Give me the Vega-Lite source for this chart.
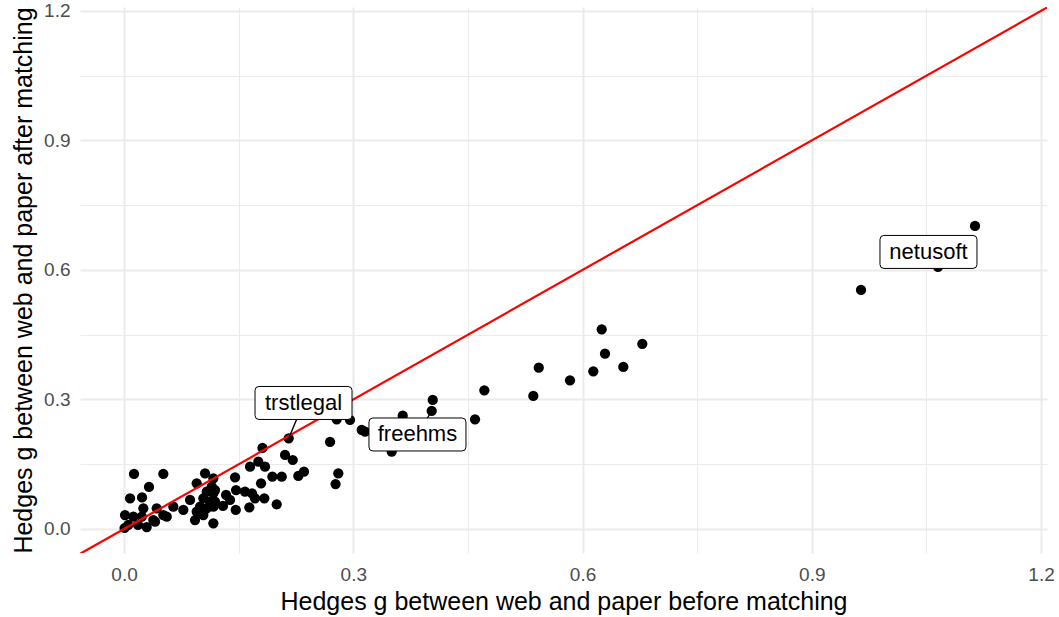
{
  "$schema": "https://vega.github.io/schema/vega-lite/v6.json",
  "width": 967,
  "height": 546,
  "autosize": {"type": "none"},
  "padding": {"left": 80, "top": 7, "right": 12, "bottom": 64},
  "background": "white",
  "config": {
    "view": {"stroke": null},
    "font": "Liberation Sans"
  },
  "datasets": {
    "points": [
      {"x": 1.1136, "y": 0.7019}, {"x": 1.0652, "y": 0.6069}, {"x": 0.9644, "y": 0.5536},
      {"x": 0.6251, "y": 0.4626}, {"x": 0.6782, "y": 0.4285}, {"x": 0.6294, "y": 0.4061},
      {"x": 0.6141, "y": 0.3653}, {"x": 0.6534, "y": 0.3753}, {"x": 0.5836, "y": 0.3445},
      {"x": 0.5427, "y": 0.3736}, {"x": 0.5356, "y": 0.3081}, {"x": 0.4715, "y": 0.3213},
      {"x": 0.4593, "y": 0.2541}, {"x": 0.4040, "y": 0.2988}, {"x": 0.4026, "y": 0.2733},
      {"x": 0.3647, "y": 0.2625}, {"x": 0.3503, "y": 0.1791}, {"x": 0.3110, "y": 0.2293},
      {"x": 0.3154, "y": 0.2254}, {"x": 0.2957, "y": 0.2525}, {"x": 0.2783, "y": 0.2541},
      {"x": 0.2696, "y": 0.2015}, {"x": 0.2155, "y": 0.2101}, {"x": 0.1812, "y": 0.1876},
      {"x": 0.2107, "y": 0.1714}, {"x": 0.2208, "y": 0.1598}, {"x": 0.2281, "y": 0.1228},
      {"x": 0.2355, "y": 0.1327}, {"x": 0.2804, "y": 0.1290}, {"x": 0.2768, "y": 0.1042},
      {"x": 0.1941, "y": 0.1211}, {"x": 0.2064, "y": 0.1211}, {"x": 0.1998, "y": 0.0572},
      {"x": 0.1649, "y": 0.1443}, {"x": 0.1757, "y": 0.1559}, {"x": 0.1845, "y": 0.1443},
      {"x": 0.1793, "y": 0.1059}, {"x": 0.1836, "y": 0.0711}, {"x": 0.1675, "y": 0.0827},
      {"x": 0.1714, "y": 0.0711}, {"x": 0.1640, "y": 0.0503}, {"x": 0.1466, "y": 0.0903},
      {"x": 0.1583, "y": 0.0864}, {"x": 0.1462, "y": 0.0440}, {"x": 0.1453, "y": 0.1198},
      {"x": 0.1335, "y": 0.0788}, {"x": 0.1387, "y": 0.0672}, {"x": 0.1295, "y": 0.0533},
      {"x": 0.1060, "y": 0.1290}, {"x": 0.1169, "y": 0.1174}, {"x": 0.0951, "y": 0.1059},
      {"x": 0.1148, "y": 0.0980}, {"x": 0.1082, "y": 0.0864}, {"x": 0.1169, "y": 0.0827},
      {"x": 0.0864, "y": 0.0672}, {"x": 0.1038, "y": 0.0711}, {"x": 0.1125, "y": 0.0632},
      {"x": 0.0995, "y": 0.0517}, {"x": 0.1082, "y": 0.0480}, {"x": 0.1169, "y": 0.0517},
      {"x": 0.0776, "y": 0.0440}, {"x": 0.0951, "y": 0.0401}, {"x": 0.1038, "y": 0.0324},
      {"x": 0.0929, "y": 0.0208}, {"x": 0.1169, "y": 0.0132}, {"x": 0.0645, "y": 0.0517},
      {"x": 0.0514, "y": 0.0324}, {"x": 0.0428, "y": 0.0480}, {"x": 0.0406, "y": 0.0169},
      {"x": 0.0297, "y": 0.0046}, {"x": 0.0232, "y": 0.0285}, {"x": 0.0253, "y": 0.0480},
      {"x": 0.0122, "y": 0.0285}, {"x": 0.0013, "y": 0.0324}, {"x": 0.0056, "y": 0.0093},
      {"x": 0.0007, "y": 0.0023}, {"x": 0.0079, "y": 0.0711}, {"x": 0.0236, "y": 0.0730},
      {"x": 0.0327, "y": 0.0973}, {"x": 0.0131, "y": 0.1274}, {"x": 0.0514, "y": 0.1274},
      {"x": 0.0183, "y": 0.0093}, {"x": 0.0383, "y": 0.0208}, {"x": 0.0559, "y": 0.0285},
      {"x": 0.1191, "y": 0.0903}, {"x": 0.1191, "y": 0.0632}
    ],
    "labels": [
      {"name": "trstlegal", "x": 0.2155, "y": 0.2101, "lx": 0.2349, "ly": 0.2919},
      {"name": "freehms", "x": 0.4026, "y": 0.2733, "lx": 0.384, "ly": 0.2189},
      {"name": "netusoft", "x": 1.0652, "y": 0.6069, "lx": 1.0527, "ly": 0.6417}
    ],
    "refline": [{"x": -0.2, "y": -0.2}, {"x": 1.4, "y": 1.4}]
  },
  "encoding": {
    "x": {
      "field": "x", "type": "quantitative",
      "scale": {"domain": [-0.0576, 1.2078], "nice": false, "zero": false},
      "axis": {
        "title": "Hedges g between web and paper before matching",
        "values": [0, 0.15, 0.3, 0.45, 0.6, 0.75, 0.9, 1.05, 1.2],
        "labelExpr": "round(datum.value*100) % 30 == 0 ? format(datum.value, '.1f') : ''",
        "gridColor": "#EBEBEB",
        "gridWidth": {"condition": {"test": "round(datum.value*100) % 30 == 0", "value": 2}, "value": 1},
        "ticks": false, "domain": false,
        "labelOverlap": false, "labelFlush": false,
        "labelFont": "Liberation Sans", "labelFontSize": 19, "labelColor": "#4D4D4D", "labelPadding": 12,
        "titleFont": "Liberation Sans", "titleFontSize": 25, "titleColor": "#000000", "titleFontWeight": "normal", "titlePadding": 5
      }
    },
    "y": {
      "field": "y", "type": "quantitative",
      "scale": {"domain": [-0.0556, 1.209], "nice": false, "zero": false},
      "axis": {
        "title": "Hedges g between web and paper after matching",
        "values": [0, 0.15, 0.3, 0.45, 0.6, 0.75, 0.9, 1.05, 1.2],
        "labelExpr": "round(datum.value*100) % 30 == 0 ? format(datum.value, '.1f') : ''",
        "gridColor": "#EBEBEB",
        "gridWidth": {"condition": {"test": "round(datum.value*100) % 30 == 0", "value": 2}, "value": 1},
        "ticks": false, "domain": false,
        "labelOverlap": false, "labelFlush": false,
        "labelFont": "Liberation Sans", "labelFontSize": 19, "labelColor": "#4D4D4D", "labelPadding": 10,
        "titleFont": "Liberation Sans", "titleFontSize": 25, "titleColor": "#000000", "titleFontWeight": "normal", "titlePadding": 7
      }
    }
  },
  "layer": [
    {
      "data": {"name": "points"},
      "mark": {"type": "circle", "color": "#000000", "opacity": 1, "size": 105}
    },
    {
      "data": {"name": "refline"},
      "mark": {"type": "line", "color": "#FF0000", "strokeWidth": 2.2, "clip": true}
    },
    {
      "data": {"name": "labels"},
      "mark": {"type": "rule", "color": "#000000", "strokeWidth": 1.4},
      "encoding": {"x2": {"field": "lx"}, "y2": {"field": "ly"}}
    },
    {
      "data": {"name": "labels"},
      "mark": {
        "type": "point", "filled": false, "fill": "#FFFFFF", "fillOpacity": 1, "stroke": "#000000", "strokeWidth": 1, "opacity": 1,
        "size": 9409,
        "shape": "M -0.918 -0.34 L 0.918 -0.34 Q 1 -0.34 1 -0.258 L 1 0.258 Q 1 0.34 0.918 0.34 L -0.918 0.34 Q -1 0.34 -1 0.258 L -1 -0.258 Q -1 -0.34 -0.918 -0.34 Z"
      },
      "encoding": {"x": {"field": "lx", "type": "quantitative"}, "y": {"field": "ly", "type": "quantitative"}}
    },
    {
      "data": {"name": "labels"},
      "mark": {"type": "text", "font": "Liberation Sans", "fontSize": 22, "align": "center", "baseline": "middle", "color": "#000000"},
      "encoding": {
        "x": {"field": "lx", "type": "quantitative"},
        "y": {"field": "ly", "type": "quantitative"},
        "text": {"field": "name"}
      }
    }
  ]
}
